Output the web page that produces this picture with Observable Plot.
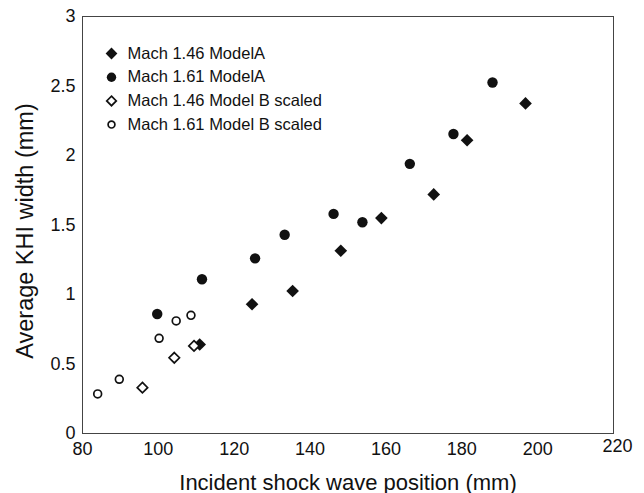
<!DOCTYPE html>
<html><head><meta charset="utf-8">
<script src="https://cdn.jsdelivr.net/npm/d3@7"></script>
<script src="https://cdn.jsdelivr.net/npm/@observablehq/plot@0.6"></script>
<style>
body{margin:0;background:#fff;font-family:"Liberation Sans",Arial,Helvetica,sans-serif}
</style>
</head><body><div id="chart"></div>
<script>
const seriesNames = ["Mach 1.46 ModelA", "Mach 1.61 ModelA", "Mach 1.46 Model B scaled", "Mach 1.61 Model B scaled"];

const m146A_x = [110.9, 124.7, 135.4, 148.1, 158.8, 172.6, 181.4, 196.8];
const m146A_y = [0.64, 0.93, 1.025, 1.315, 1.55, 1.72, 2.11, 2.375];

const m161A_x = [99.7, 111.5, 125.5, 133.3, 146.2, 153.8, 166.3, 177.8, 188.1];
const m161A_y = [0.86, 1.11, 1.26, 1.43, 1.58, 1.52, 1.94, 2.155, 2.525];

const m146B_x = [95.8, 104.2, 109.4];
const m146B_y = [0.33, 0.545, 0.63];

const m161B_x = [84.0, 89.7, 100.2, 104.7, 108.6];
const m161B_y = [0.285, 0.39, 0.685, 0.81, 0.85];

const xTicks = [80, 100, 120, 140, 160, 180, 200];
const xLastTick = [220];
const yTicks = [0, 0.5, 1, 1.5, 2, 2.5, 3];

const ink = "#111";
const toRows = (xs, ys) => xs.map((x, i) => ({x, y: ys[i]}));

const styles = [
  {symbol: "diamond2", fill: ink, stroke: "none", r: 5.7},
  {symbol: "circle", fill: ink, stroke: "none", r: 5.2},
  {symbol: "diamond2", fill: "white", stroke: ink, strokeWidth: 1.7, r: 4.7},
  {symbol: "circle", fill: "white", stroke: ink, strokeWidth: 1.7, r: 3.9}
];
const legendR = [5.3, 4.7, 4.3, 3.4];
const data = [toRows(m146A_x, m146A_y), toRows(m161A_x, m161A_y), toRows(m146B_x, m146B_y), toRows(m161B_x, m161B_y)];

const marks = [Plot.frame({stroke: "#444", strokeWidth: 1})];
data.forEach((rows, i) => marks.push(Plot.dot(rows, {x: "x", y: "y", ...styles[i]})));

// legend inside the frame
seriesNames.forEach((name, i) => {
  const off = 37 + i * 23.7;
  marks.push(Plot.dot([name], {frameAnchor: "top-left", dx: 29, dy: off, ...styles[i], r: legendR[i]}));
  marks.push(Plot.text([name], {frameAnchor: "top-left", dx: 45, dy: off, text: d => d,
    textAnchor: "start", lineAnchor: "middle", fontSize: 16.5, fill: ink}));
});

marks.push(Plot.axisX({ticks: xTicks, tickSize: 0, tickPadding: 9, fontSize: 18, label: null, color: ink}));
marks.push(Plot.text(xLastTick, {x: d => d, frameAnchor: "bottom", dx: 4, dy: 13, text: d => String(d),
  fontSize: 18, fill: ink, lineAnchor: "middle"}));
marks.push(Plot.axisY({ticks: yTicks, tickSize: 0, tickPadding: 7, fontSize: 18, label: null,
  tickFormat: d => String(d), color: ink}));
marks.push(Plot.text(["Incident shock wave position (mm)"], {frameAnchor: "bottom", dy: 49, text: d => d,
  fontSize: 22, fill: ink, lineAnchor: "middle", textAnchor: "middle"}));
marks.push(Plot.text(["Average KHI width (mm)"], {frameAnchor: "left", dx: -57, dy: 6, rotate: -90, text: d => d,
  fontSize: 23.5, fill: ink, lineAnchor: "middle", textAnchor: "middle"}));

const chart = Plot.plot({
  width: 644,
  height: 493,
  marginLeft: 82,
  marginRight: 31,
  marginTop: 16,
  marginBottom: 60,
  style: {fontFamily: '"Liberation Sans", Arial, Helvetica, sans-serif', background: "white", overflow: "visible"},
  x: {domain: [80, 220]},
  y: {domain: [0, 3]},
  marks
});
document.getElementById("chart").appendChild(chart);
</script>
</body></html>
